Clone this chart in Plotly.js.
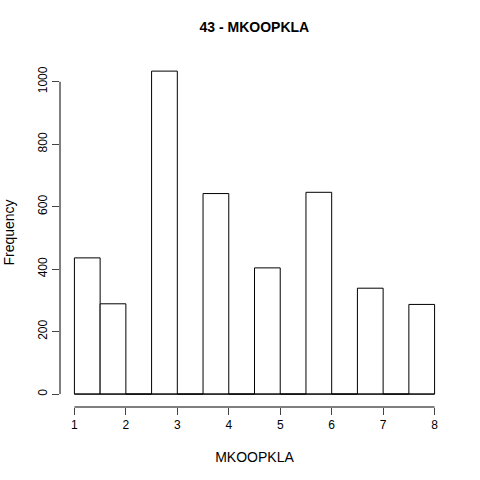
<!DOCTYPE html>
<html><head><script src="https://cdn.plot.ly/plotly-3.0.1.min.js"></script></head>
<body style="margin:0"><div id="chart" style="width:480px;height:480px"></div>
<script>
var binCenters = [1.25,1.75,2.25,2.75,3.25,3.75,4.25,4.75,5.25,5.75,6.25,6.75,7.25,7.75];
var counts = [436,289,0,1034,0,642,0,404,0,646,0,339,0,287];
var baseX = [1, 8];
var baseY = [0, 0];

var traces = [
  {type:'bar', x:binCenters, y:counts, width:0.5,
   marker:{color:'white', line:{color:'black', width:1}}, hoverinfo:'x+y'},
  {type:'scatter', mode:'lines', x:baseX, y:baseY, line:{color:'black', width:1}, hoverinfo:'skip'}
];
var layout = {
  width:480, height:480, showlegend:false,
  paper_bgcolor:'white', plot_bgcolor:'white',
  font:{family:'Liberation Sans, Arial, sans-serif', size:12, color:'black'},
  margin:{l:60, r:31, t:58, b:73},
  title:{text:'<b>43 - MKOOPKLA</b>', font:{size:14}, x:0.53, y:0.953},
  xaxis:{range:[0.72,8.28], tickvals:[1,2,3,4,5,6,7,8], ticks:'outside', ticklen:7,
         showgrid:false, zeroline:false, showline:false,
         title:{text:'MKOOPKLA', standoff:20}},
  yaxis:{range:[-41.4,1076], tickvals:[0,200,400,600,800,1000], ticks:'outside', ticklen:7,
         tickangle:-90, showgrid:false, zeroline:false, showline:false,
         title:{text:'Frequency', standoff:18}},
  shapes:[
    {type:'line', xref:'x', yref:'paper', x0:1, x1:8, y0:0, y1:0, line:{color:'black', width:1}},
    {type:'line', xref:'paper', yref:'y', x0:0, x1:0, y0:0, y1:1000, line:{color:'black', width:1}}
  ]
};
Plotly.newPlot('chart', traces, layout, {displayModeBar:false});
</script></body></html>
